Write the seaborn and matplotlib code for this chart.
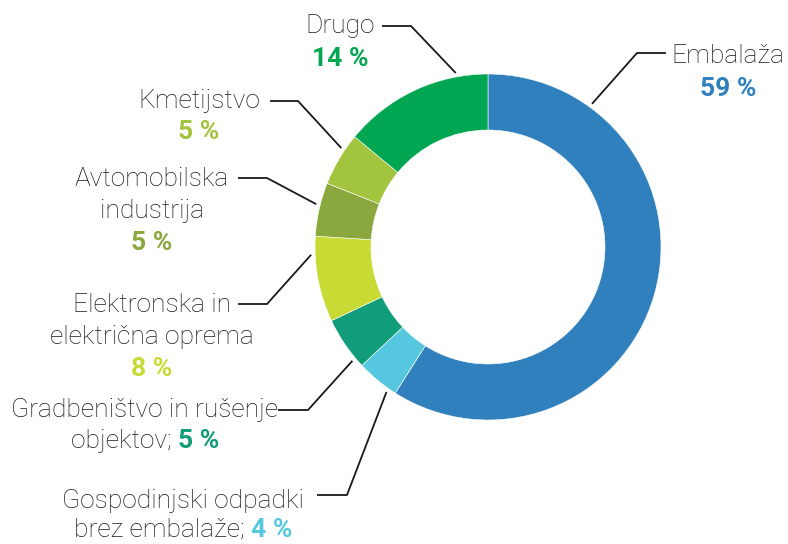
import numpy as np
import matplotlib
matplotlib.use("Agg")
import matplotlib.pyplot as plt
import seaborn as sns

# shares of plastic waste by source sector (clockwise from the top)
sectors = ["Embalaža", "Gospodinjski odpadki brez embalaže", "Gradbeništvo in rušenje objektov",
           "Elektronska in električna oprema", "Avtomobilska industrija", "Kmetijstvo", "Drugo"]
shares = [59, 4, 5, 8, 5, 5, 14]
colors = ["#2f80bd", "#55c8e0", "#119c7a", "#c8da34", "#8aa83e", "#a3c43e", "#00a651"]

# label text lines for each sector, the percent goes on its own line or inline
name_lines = [["Embalaža"],
              ["Gospodinjski odpadki", "brez embalaže; "],
              ["Gradbeništvo in rušenje", "objektov; "],
              ["Elektronska in", "električna oprema"],
              ["Avtomobilska", "industrija"],
              ["Kmetijstvo"],
              ["Drugo"]]
pct_inline = [False, True, True, False, False, False, False]
pct_labels = [f"{v} %" for v in shares]

sns.set_theme(style="white")
plt.rcParams['font.family'] = ['Roboto', 'DejaVu Sans']

W, H = 788, 544
fig = plt.figure(figsize=(7.88, 5.44), dpi=100)
ax = fig.add_axes([0, 0, 1, 1])

cx, cy = 488, 247   # donut centre in pixels (from top)
R = 173
ax.pie(shares, colors=colors, startangle=90, counterclock=False,
       center=(cx, H - cy), radius=R,
       wedgeprops=dict(width=56, edgecolor="white", linewidth=0.4))
ax.set_xlim(0, W)
ax.set_ylim(0, H)
ax.set_aspect("equal")
ax.axis("off")

# layout: text centre x, first baseline, line step,
# leader line: text-side x, elbow x, y, angle where it meets the ring
layout = [
    dict(x=728, y=63, step=33, lx0=666, lx1=637, ly=53, ang=54),
    dict(x=183, y=508, step=29, lx0=317, lx1=347, ly=495, ang=235),
    dict(x=145, y=417, step=31, lx0=278, lx1=308, ly=410, ang=220),
    dict(x=152, y=312, step=32, lx0=238, lx1=267, ly=304, ang=182.5),
    dict(x=152, y=186, step=32, lx0=238, lx1=267, ly=178, ang=166),
    dict(x=199, y=108, step=31, lx0=270, lx1=298, ly=101, ang=146),
    dict(x=340, y=33, step=33, lx0=382, lx1=411, ly=26, ang=100.5),
]

fs = 19
inline_pairs = []
for i, lay in enumerate(layout):
    lines = name_lines[i]
    if pct_inline[i]:
        ax.text(lay["x"], H - lay["y"], lines[0], ha="center", va="baseline",
                fontsize=fs, fontweight="light", color="#1a1a1a")
        t = ax.text(lay["x"], H - lay["y"] - lay["step"], lines[1], ha="left", va="baseline",
                    fontsize=fs, fontweight="light", color="#1a1a1a")
        p = ax.annotate(pct_labels[i], xy=(1, 0), xycoords=t, ha="left", va="bottom",
                        fontsize=fs, fontweight="bold", color=colors[i])
        inline_pairs.append((t, p, lay["x"]))
    else:
        for j, line in enumerate(lines):
            ax.text(lay["x"], H - lay["y"] - j * lay["step"], line, ha="center", va="baseline",
                    fontsize=fs, fontweight="light", color="#1a1a1a")
        ax.text(lay["x"], H - lay["y"] - len(lines) * lay["step"], pct_labels[i],
                ha="center", va="baseline", fontsize=fs, fontweight="bold", color=colors[i])

    a = np.deg2rad(lay["ang"])
    rx = cx + 177 * np.cos(a)
    ry = cy - 177 * np.sin(a)
    ax.plot([lay["lx0"], lay["lx1"], rx], [H - lay["ly"], H - lay["ly"], H - ry],
            color="#1a1a1a", lw=1.3, solid_capstyle="butt")

# centre the "name; pct" lines (1 data unit = 1 pixel here)
fig.canvas.draw()
rend = fig.canvas.get_renderer()
for t, p, xc in inline_pairs:
    wtot = t.get_window_extent(rend).width + p.get_window_extent(rend).width
    t.set_x(xc - wtot / 2)

fig.savefig("out.png", dpi=100)
